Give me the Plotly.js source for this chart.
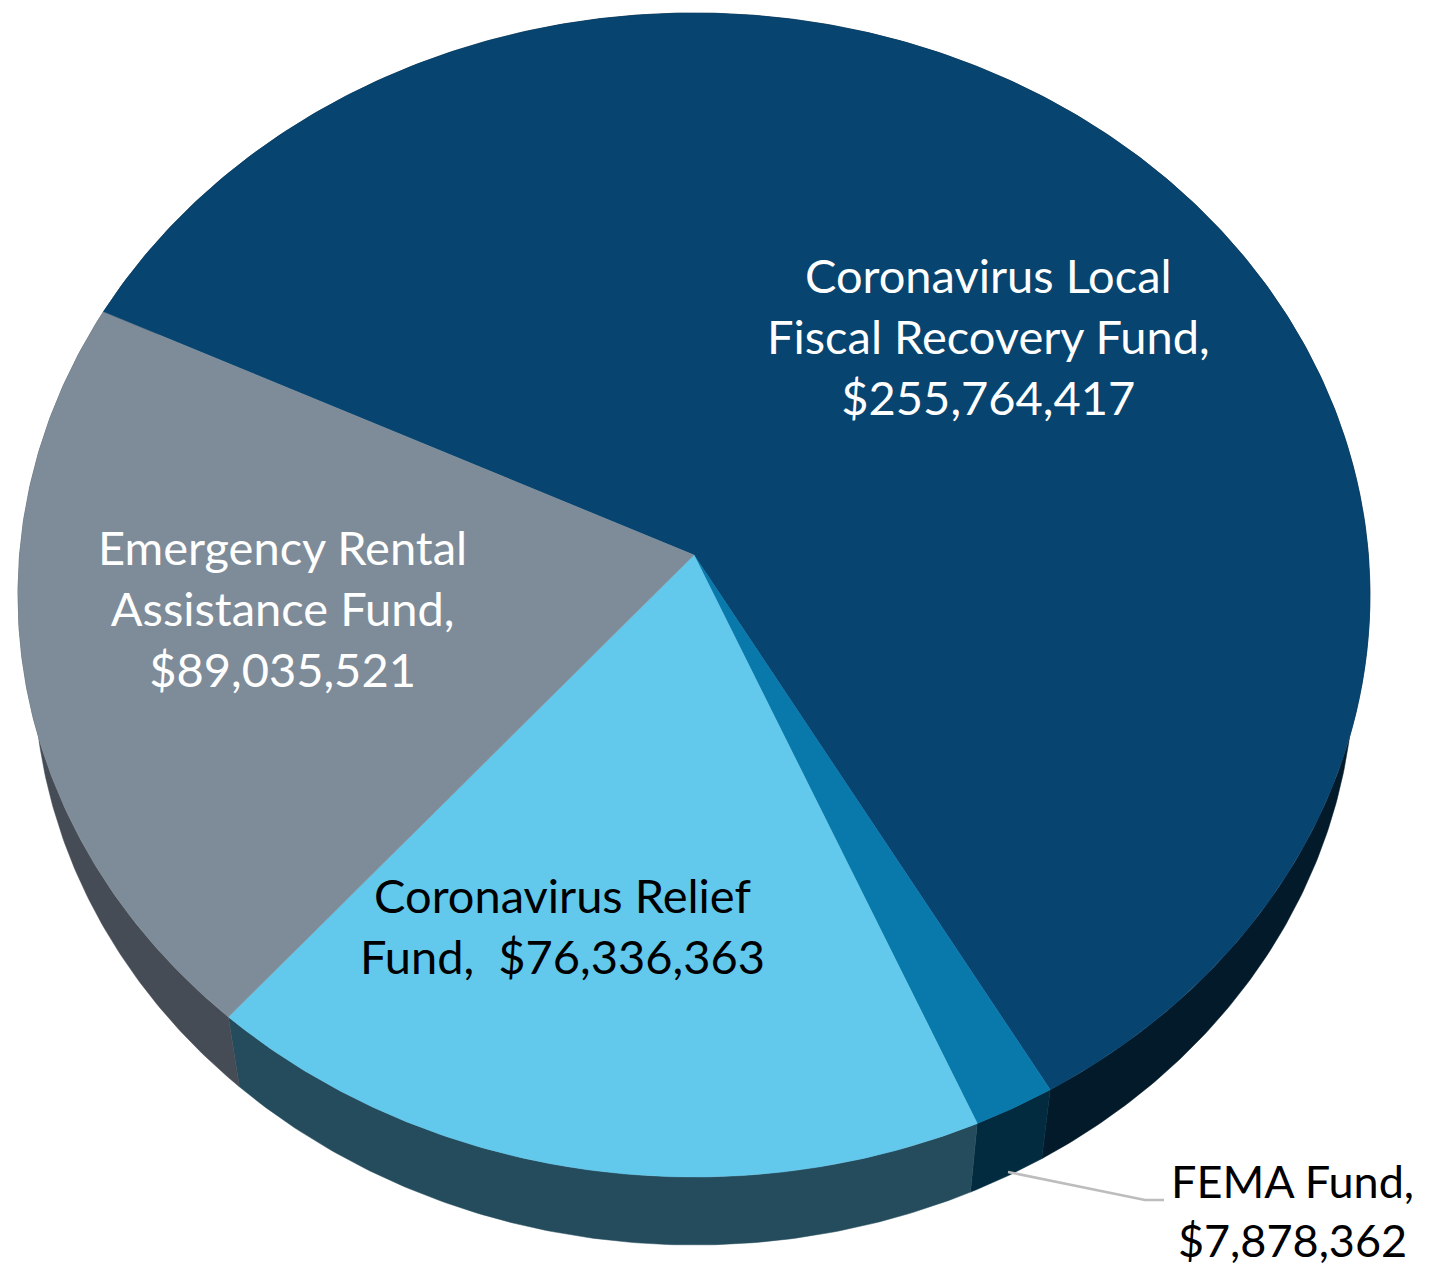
<!DOCTYPE html>
<html>
<head>
<meta charset="utf-8">
<script src="https://cdn.plot.ly/plotly-3.0.1.min.js"></script>
<style>html,body{margin:0;padding:0;background:#fff;}#chart{width:1430px;height:1271px;}</style>
</head>
<body>
<div id="chart"></div>
<script>
// ---- data ----
const categories = ["Coronavirus Local Fiscal Recovery Fund", "FEMA Fund", "Coronavirus Relief Fund", "Emergency Rental Assistance Fund"];
const values = [255764417, 7878362, 76336363, 89035521];
const labelNames = ["Coronavirus Local<br>Fiscal Recovery Fund,<br>", "FEMA Fund,<br>", "Coronavirus Relief<br>Fund,  ", "Emergency Rental<br>Assistance Fund,<br>"];

// ---- styles ----
const topColors = ["#074470", "#0879aa", "#62c8ec", "#7e8c99"];
const sideColors = ["#021a2a", "#022b40", "#254c5d", "#464c55"];
const textColors = ["#ffffff", "#000000", "#000000", "#ffffff"];
const fontSizes = [47, 45, 47, 47];

// ---- geometry (pixel space) ----
// top ellipse, bottom ellipse, perspective offset c (normalised), rotation
const G = {cx: 694, cy: 595, rx: 676, ry: 582,
           bcx: 694, bcy: 670, brx: 660, bry: 575,
           c: 0.0687, rot: 295.6};

const total = values.reduce((a, b) => a + b, 0);
// perspective-style mapping of a true angle onto the ellipse
function pt(thDeg, cx, cy, rx, ry) {
  const t = thDeg * Math.PI / 180;
  const u = Math.sin(t), v = Math.cos(t), c = G.c, s = Math.sqrt(1 - c * c);
  const d = 1 + c * v;
  const up = u * s / d, vp = (v + c) / d;
  return [cx + rx * up, cy - ry * vp];
}
function arc(a0, a1, cx, cy, rx, ry) {
  const n = Math.max(4, Math.ceil((a1 - a0) / 0.5));
  const xs = [], ys = [];
  for (let k = 0; k <= n; k++) {
    const [x, y] = pt(a0 + (a1 - a0) * k / n, cx, cy, rx, ry);
    xs.push(x); ys.push(y);
  }
  return [xs, ys];
}
const ax = G.cx, ay = G.cy - G.ry * G.c;

const sides = [], tops = [];
let acc = 0;
values.forEach((v, i) => {
  const a0 = G.rot + acc / total * 360;
  acc += v;
  const a1 = G.rot + acc / total * 360;
  const [tx, ty] = arc(a0, a1, G.cx, G.cy, G.rx, G.ry);
  const [bx, by] = arc(a0, a1, G.bcx, G.bcy, G.brx, G.bry);
  sides.push({
    type: "scatter", mode: "lines", fill: "toself",
    x: tx.concat(bx.slice().reverse(), [tx[0]]),
    y: ty.concat(by.slice().reverse(), [ty[0]]),
    fillcolor: sideColors[i], line: {width: 0.5, color: sideColors[i]},
    hoverinfo: "skip", showlegend: false
  });
  tops.push({
    type: "scatter", mode: "lines", fill: "toself",
    x: [ax].concat(tx, [ax]),
    y: [ay].concat(ty, [ay]),
    fillcolor: topColors[i], line: {width: 0.5, color: topColors[i]},
    hoverinfo: "skip", showlegend: false, name: categories[i]
  });
});

function money(v) { return "$" + v.toLocaleString("en-US"); }
const labelPos = [[988, 336], [1292, 1210], [562, 925], [282, 608]];
const FONT = "Lato, 'Open Sans', sans-serif";
const annotations = values.map((v, i) => ({
  x: labelPos[i][0], y: labelPos[i][1], xref: "x", yref: "y",
  text: labelNames[i] + money(v), showarrow: false,
  xanchor: "center", yanchor: "middle", align: "center",
  font: {family: FONT, size: fontSizes[i], color: textColors[i]}
}));

const layout = {
  width: 1430, height: 1271,
  margin: {l: 0, r: 0, t: 0, b: 0},
  paper_bgcolor: "#ffffff", plot_bgcolor: "#ffffff",
  xaxis: {range: [0, 1430], visible: false, fixedrange: true},
  yaxis: {range: [1271, 0], visible: false, fixedrange: true},
  showlegend: false,
  annotations: annotations,
  shapes: [{
    type: "path", path: "M 1008 1172 L 1145 1200 L 1164 1200",
    line: {color: "#bdbdbd", width: 2.5}, xref: "x", yref: "y"
  }]
};

Plotly.newPlot("chart", sides.concat(tops), layout, {staticPlot: true, displayModeBar: false});
</script>
</body>
</html>
